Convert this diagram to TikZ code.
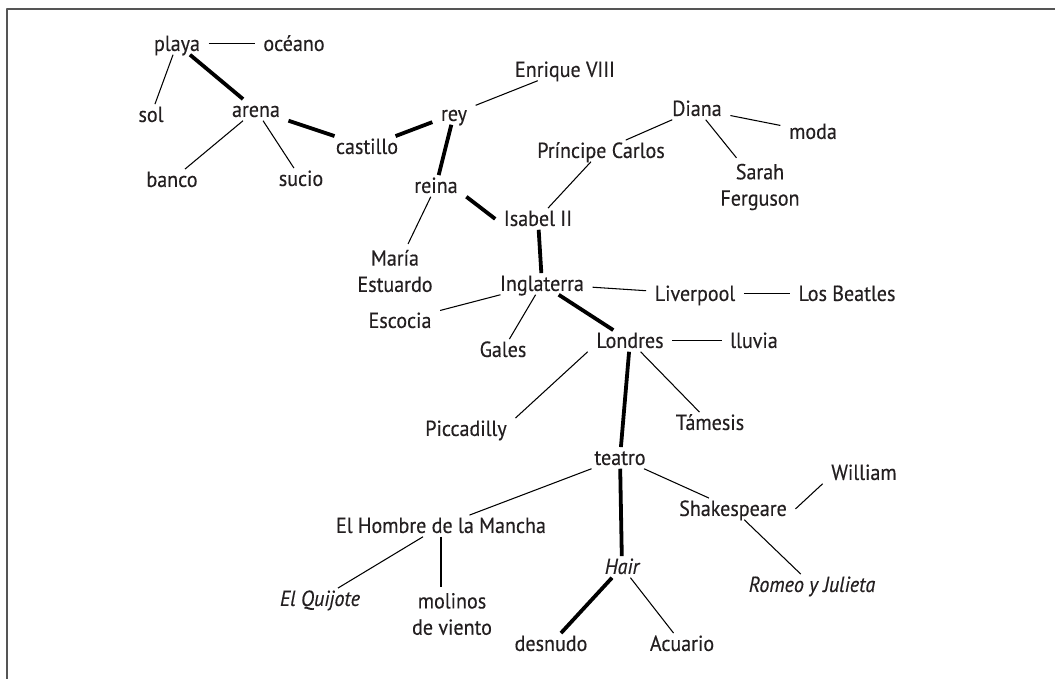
\documentclass[tikz,border=0pt]{standalone}
\usepackage{fontspec}
\setmainfont{PT Sans}[FakeStretch=0.92,FakeBold=0.35]
\usepackage{xcolor}
\usepackage{tikz}
\usetikzlibrary{positioning}
\definecolor{ink}{HTML}{231F20}
\definecolor{framegray}{HTML}{555555}
\tikzset{
    every picture/.style={line join=round},
    word/.style={text=ink,inner xsep=6pt,inner ysep=2.5pt,
      text height=1em,text depth=0pt,yshift=2.2pt},
    twoline/.style={text=ink,inner xsep=6pt,inner ysep=4pt,align=center},
    thinlink/.style={draw=black,line width=0.75pt},
    thicklink/.style={draw=black,line width=2.7pt}
}

\begin{document}
\begin{tikzpicture}[x=0.025cm,y=-0.025cm,font=\fontsize{15.5}{18.7}\selectfont]
  \useasboundingbox (0,0) rectangle (1055,679);
  \draw[framegray,line width=1.1pt] (7,679) -- (7,9) -- (1055,9);

  % beach and castle
  \node[word] (playa) at (177,47) {playa};
  \node[word] (oceano) at (294,47) {océano};
  \node[word] (sol) at (151,118) {sol};
  \node[word] (arena) at (256,113) {arena};
  \node[word] (banco) at (172,183) {banco};
  \node[word] (sucio) at (301,182) {sucio};
  \node[word] (castillo) at (367,150) {castillo};

  % royals
  \node[word] (rey) at (454,117) {rey};
  \node[word] (enrique) at (565,73) {Enrique VIII};
  \node[word] (reina) at (436,189) {reina};
  \node[twoline] (maria) at (395,271) {María\\Estuardo};
  \node[word] (isabel) at (538,222) {Isabel II};
  \node[word] (carlos) at (601,154) {Príncipe Carlos};
  \node[word] (diana) at (697,112) {Diana};
  \node[word] (moda) at (813,135) {moda};
  \node[twoline] (sarah) at (760,187) {Sarah\\Ferguson};

  % country and city
  \node[word] (inglaterra) at (542,287) {Inglaterra};
  \node[word] (escocia) at (400,324) {Escocia};
  \node[word] (gales) at (503,353) {Gales};
  \node[word] (liverpool) at (695,297) {Liverpool};
  \node[word] (beatles) at (847,297) {Los Beatles};
  \node[word] (londres) at (630,344) {Londres};
  \node[word] (lluvia) at (754,344) {lluvia};
  \node[word] (piccadilly) at (466,432) {Piccadilly};
  \node[word] (tamesis) at (710,426) {Támesis};

  % theatre
  \node[word] (teatro) at (620,461) {teatro};
  \node[word] (hombre) at (441,529) {El Hombre de la Mancha};
  \node[word] (quijote) at (320,602) {\itshape El Quijote};
  \node[twoline] (molinos) at (452,614) {molinos\\de viento};
  \node[word] (hair) at (622,570) {\itshape Hair};
  \node[word] (desnudo) at (551,647) {desnudo};
  \node[word] (acuario) at (682,647) {Acuario};
  \node[word] (shakespeare) at (733,512) {Shakespeare};
  \node[word] (william) at (864,476) {William};
  \node[word] (romeo) at (812,588) {\itshape Romeo y Julieta};

  % main chain
  \foreach \a/\b in {playa/arena,arena/castillo,castillo/rey,rey/reina,
      reina.south east/isabel.west,isabel/inglaterra,inglaterra/londres,
      londres/teatro,teatro/hair,hair/desnudo}
    \draw[thicklink] (\a) -- (\b);

  % side links
  \foreach \a/\b in {playa/oceano,playa/sol,arena/banco,arena/sucio,
      rey/enrique,reina/maria,isabel/carlos,carlos/diana,diana/moda,
      diana/sarah,inglaterra/escocia,inglaterra/gales,inglaterra/liverpool,
      liverpool/beatles,londres/lluvia,londres.south west/piccadilly.north east,
      londres/tamesis,teatro/hombre,teatro/shakespeare,
      shakespeare.east/william.south west,shakespeare/romeo,hair/acuario,
      hombre/quijote}
    \draw[thinlink] (\a) -- (\b);
  \draw[thinlink] (hombre.south) -- (hombre.south |- molinos.north);
\end{tikzpicture}
\end{document}
